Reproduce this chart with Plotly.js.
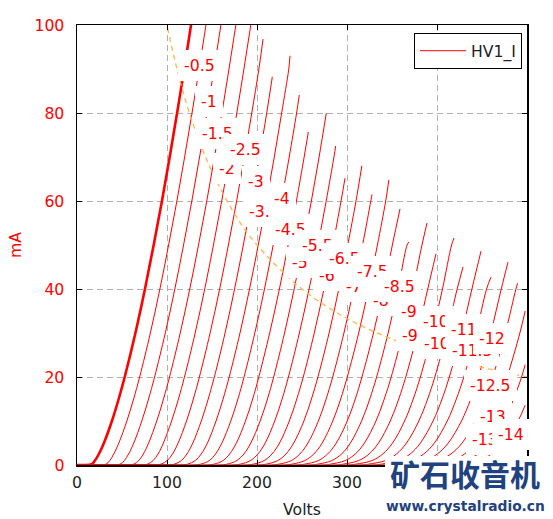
<!DOCTYPE html>
<html><head><meta charset="utf-8">
<script src="https://cdn.plot.ly/plotly-3.0.1.min.js"></script>
<style>html,body{margin:0;padding:0;background:#fff;} #chart{width:553px;height:519px;}</style>
</head><body><div id="chart"></div>
<script>
// grid voltage of each curve
const gridVolts = [0,-0.5,-1,-1.5,-2,-2.5,-3,-3.5,-4,-4.5,-5,-5.5,-6,-6.5,-7,-7.5,-8,-8.5,-9,-9.5,-10,-10.5,-11,-11.5,-12,-12.5,-13,-13.5,-14];
// plate current levels (mA) at which plate voltages were read
const currentLevels = [0,0,0.2,1,2.5,5,10,15,20,30,40,50,60,70,80,90,100,110];
// plate voltages (V) per curve at those current levels
const pv00 = [0,8,16.4,19.9,24.3,29.9,38.8,46.3,53.0,64.9,75.5,85.2,94.4,103.0,111.2,119.1,126.7,134.0];
const pv05 = [0,24,32.3,36.4,40.8,46.5,55.4,62.9,69.6,81.5,92.1,101.8,111.0,119.6,127.8,135.7,143.3,150.6];
const pv10 = [0,39,47.9,52.6,57.3,63.1,72.0,79.5,86.2,98.1,108.7,118.4,127.6,136.2,144.4,152.3,159.9,167.2];
const pv15 = [0,54,63.2,68.6,73.7,79.6,88.6,96.1,102.8,114.7,125.3,135.0,144.2,152.8,161.0,168.9,176.5,183.8];
const pv20 = [0,69,78.4,84.5,90.0,96.0,105.1,112.7,119.4,131.3,141.9,151.6,160.8,169.4,177.6,185.5,193.1,200.4];
const pv25 = [0,83,93.4,100.2,106.1,112.4,121.7,129.3,136.0,147.9,158.5,168.2,177.4,186.0,194.2,202.1];
const pv30 = [0,98,108.2,115.9,122.1,128.7,138.1,145.8,152.6,164.5,175.1,184.8,194.0,202.6,210.8];
const pv35 = [0,113,123.0,131.4,138.0,144.9,154.5,162.3,169.1,181.1,191.7,201.4,210.6,219.2,227.4,235.3];
const pv40 = [0,128,137.7,146.9,153.9,161.0,170.9,178.8,185.6,197.6,208.3,218.0,227.2,235.8,244.0];
const pv45 = [0,142,152.3,162.2,169.6,177.1,187.2,195.2,202.0,214.1,224.9,234.6,243.8,252.4];
const pv50 = [0,157,166.9,177.5,185.4,193.1,203.5,211.6,218.5,230.6,241.3,251.2,260.4,269.0];
const pv55 = [0,171,181.4,192.7,201.0,209.1,219.7,227.9,234.9,247.1,257.9,267.8,276.9,285.5];
const pv60 = [0,186,195.9,207.9,216.6,225.0,235.9,244.2,251.4,263.6,274.4,284.3,293.4];
const pv65 = [0,200,210.3,223.0,232.1,240.8,252.1,260.5,267.7,280.1,290.9,300.8,310.0];
const pv70 = [0,215,224.6,238.1,247.6,256.6,268.2,276.8,284.1,296.6,307.4,317.3,326.5];
const pv75 = [0,229,238.9,253.1,263.1,272.4,284.2,293.0,300.3,313.0,323.9,333.8,343.0];
const pv80 = [0,243,253.2,268.1,278.5,288.1,300.3,309.2,316.6,329.4,340.4,350.4];
const pv85 = [0,257,267.5,283.0,293.9,303.8,316.2,325.3,332.9,345.7,356.8,366.8];
const pv90 = [0,272,281.7,297.9,309.2,319.4,332.2,341.4,349.1,362.1,373.3,383.3];
const pv95 = [0,286,295.9,312.8,324.5,335.0,348.1,357.5,365.3,378.4,389.7];
const pv100 = [0,300,309.9,327.7,339.7,350.6,364.0,373.6,381.5,394.7,406.1,416.2];
const pv105 = [0,314,324.1,342.5,354.9,366.1,379.8,389.6,397.6,411.0,422.4];
const pv110 = [0,328,338.1,357.2,370.1,381.6,395.6,405.6,413.7,427.3,438.8];
const pv115 = [0,342,352.2,371.9,385.2,397.1,411.4,421.5,429.8,443.5,455.1];
const pv120 = [0,356,366.2,386.6,400.3,412.5,427.2,437.5,445.9,459.7,471.4];
const pv125 = [0,370,380.2,401.3,415.4,427.9,442.9,453.4,461.9,475.9,487.7];
const pv130 = [0,384,394.2,415.9,430.6,443.3,458.6,469.3,477.9,492.1];
const pv135 = [0,398,408.2,430.6,445.6,458.7,474.3,485.1,494.0];
const pv140 = [0,412,422.1,445.2,460.6,474.0,490.0];
const plateVolts = [pv00,pv05,pv10,pv15,pv20,pv25,pv30,pv35,pv40,pv45,pv50,pv55,pv60,pv65,pv70,pv75,pv80,pv85,pv90,pv95,pv100,pv105,pv110,pv115,pv120,pv125,pv130,pv135,pv140];
// where each curve stops (null = runs off the top)
const endVolts = [null,null,null,null,null,206.7,217,236.7,247,257,277,287.4,297.8,316.5,327.8,346.5,358.9,368.9,388.9,398.9,418.9,428.9,448.9,460,478.9,489.5,498,498,498];
const endCurrents = [null,null,null,null,null,96.8,88.2,93.0,84.1,75.7,80.0,72.5,65.2,68.0,61.5,64.8,58.2,50.7,55.0,48.0,51.6,45.0,48.6,42.7,46.1,41.3,35.0,22.8,13.6];
// curve label centres
const labelVolts = [null,135.9,147.0,156.1,167.2,186.7,198.5,208.3,227.4,237.5,247.3,267.0,278.0,296.7,308.0,328.3,337.7,358.0,369.0,378.5,398.5,407.8,429.5,439.3,460.8,459.8,462.2,461.6,482.0];
const labelCurrents = [null,90.9,82.6,75.4,67.4,71.75,64.4,57.6,60.6,53.6,46.1,50.0,43.0,47.0,40.5,43.9,37.5,40.5,34.8,29.5,32.6,27.7,30.7,26.1,28.8,18.0,11.0,5.7,7.0];
// 10 W plate dissipation limit
const dissVolts = [95,100,110,120,130,140,150,175,200,250,300,350,400,450,500];
const dissCurrents = [105.3,100,90.9,83.3,76.9,71.4,66.7,57.1,50,40,33.3,28.6,25,22.2,20];
// axis ticks
const xTickVals = [0,100,200,300,400,500];
const xTickText = ['0','100','200','300','',''];
const yTickVals = [0,20,40,60,80,100];

const traces = [];
plateVolts.forEach((pv, i) => {
  const xs = [], ys = [];
  for (let j = 0; j < pv.length; j++) {
    if (endCurrents[i] === null || currentLevels[j] < endCurrents[i]) { xs.push(pv[j]); ys.push(currentLevels[j]); }
  }
  if (endCurrents[i] !== null) { xs.push(endVolts[i]); ys.push(endCurrents[i]); }
  traces.push({
    x: xs, y: ys, type: 'scatter', mode: 'lines',
    line: {color: '#ff0000', width: i === 0 ? 2.6 : 1, shape: 'spline', smoothing: 1},
    name: 'HV1_I', showlegend: i === 1, hoverinfo: 'skip'
  });
});
traces.push({
  x: dissVolts, y: dissCurrents, type: 'scatter', mode: 'lines',
  line: {color: '#ffb54a', width: 1.3, dash: '5px,4px', shape: 'spline'},
  showlegend: false, hoverinfo: 'skip'
});

const FONT = 'DejaVu Sans, sans-serif';
const annotations = [];
gridVolts.forEach((g, i) => {
  if (labelVolts[i] === null) return;
  annotations.push({
    x: labelVolts[i], y: labelCurrents[i], xref: 'x', yref: 'y',
    text: String(g), showarrow: false, xanchor: 'center', yanchor: 'middle',
    font: {family: FONT, size: 15.7, color: '#ff0000'},
    bgcolor: '#ffffff', borderpad: 6, borderwidth: 0
  });
});
annotations.push({
  x: 0.8622, y: -0.0182, xref: 'paper', yref: 'paper', text: '<b>矿石收音机</b>',
  showarrow: false, xanchor: 'center', yanchor: 'middle',
  font: {family: 'Noto Sans CJK SC, sans-serif', size: 30, color: '#1f4280'}
});
annotations.push({
  x: 0.8644, y: -0.0932, xref: 'paper', yref: 'paper', text: '<b>www.crystalradio.cn</b>',
  showarrow: false, xanchor: 'center', yanchor: 'middle',
  font: {family: 'DejaVu Sans, sans-serif', size: 13.8, color: '#1f4280'}
});

const axisCommon = {
  showgrid: true, gridcolor: '#b0b0b0', gridwidth: 1, griddash: '6px,4px',
  showline: true, linecolor: '#000', linewidth: 1.5, mirror: 'ticks',
  ticks: 'inside', ticklen: 5, tickcolor: '#000', tickwidth: 1,
  zeroline: false, automargin: false
};
const layout = {
  width: 553, height: 519,
  margin: {l: 77, r: 26, t: 25, b: 54, pad: 0},
  paper_bgcolor: '#fff', plot_bgcolor: '#fff',
  font: {family: FONT, size: 15.7, color: '#222'},
  xaxis: Object.assign({}, axisCommon, {
    range: [0, 500], tickmode: 'array', tickvals: xTickVals, ticktext: xTickText,
    ticklabelstandoff: 3,
    tickfont: {family: FONT, size: 15.7, color: '#222'},
    title: {text: 'Volts', font: {family: FONT, size: 15.7, color: '#222'}, standoff: 15}
  }),
  yaxis: Object.assign({}, axisCommon, {
    range: [0, 100], tickmode: 'array', tickvals: yTickVals,
    ticklabelstandoff: 8,
    tickfont: {family: FONT, size: 15.7, color: '#ff0000'},
    title: {text: 'mA', font: {family: FONT, size: 15.7, color: '#ff0000'}, standoff: 9}
  }),
  showlegend: true,
  legend: {x: 0.9889, xanchor: 'right', y: 0.9818, yanchor: 'top', bgcolor: '#fff',
           bordercolor: '#000', borderwidth: 1, itemwidth: 46,
           font: {family: FONT, size: 15.7, color: '#222'}},
  shapes: [{type: 'rect', xref: 'paper', yref: 'paper', x0: 0.6844, x1: 1.06, y0: -0.125, y1: 0.0205,
            fillcolor: '#fff', line: {width: 0}, layer: 'above'}],
  annotations: annotations
};
Plotly.newPlot('chart', traces, layout, {staticPlot: true, displayModeBar: false});
</script></body></html>
